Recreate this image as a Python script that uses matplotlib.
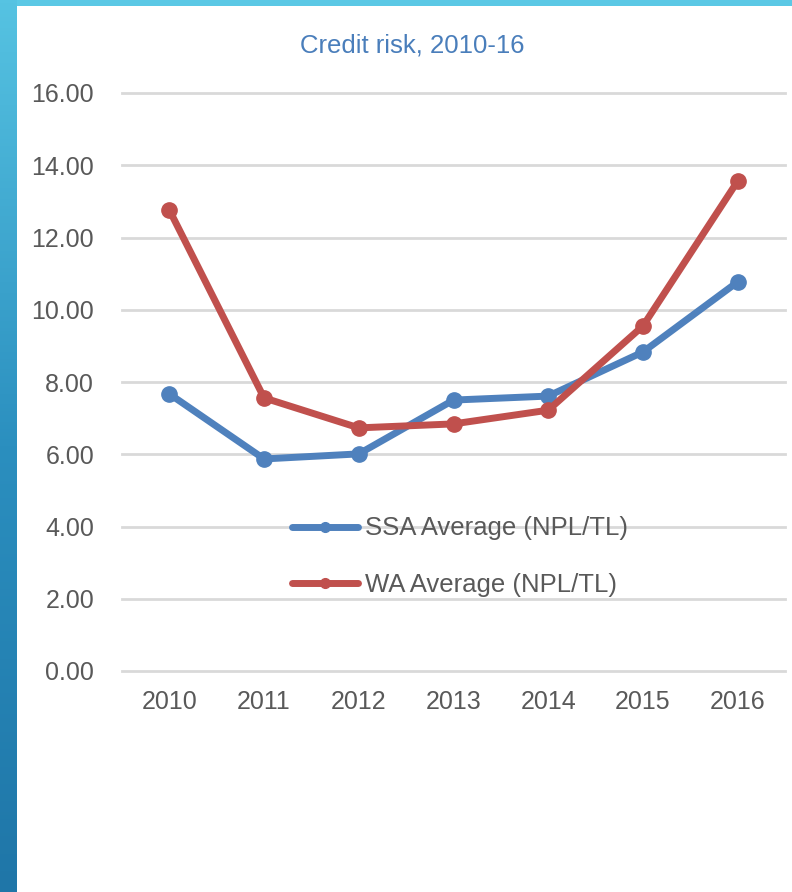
import numpy as np
import matplotlib
matplotlib.use('Agg')
from matplotlib import pyplot as plt
from matplotlib.colors import LinearSegmentedColormap

years = ['2010', '2011', '2012', '2013', '2014', '2015', '2016']
ssa_avg = [7.67, 5.87, 6.01, 7.50, 7.61, 8.83, 10.77]
wa_avg = [12.76, 7.56, 6.73, 6.84, 7.22, 9.55, 13.56]
yticks = [0, 2, 4, 6, 8, 10, 12, 14, 16]

plt.rcParams['font.family'] = ['Liberation Sans', 'DejaVu Sans']

W, H = 792, 892
fig = plt.figure(figsize=(W/100, H/100), dpi=100)

## slide frame: left gradient strip and top bar
strip = fig.add_axes([0, 0, 17/W, 1])
cmap = LinearSegmentedColormap.from_list('frame', ['#56c3e2', '#2b8fbf', '#1f76a8'])
strip.imshow(np.linspace(0, 1, 256).reshape(-1, 1), aspect='auto', cmap=cmap)
strip.axis('off')
top = fig.add_axes([17/W, 1 - 6/H, 1 - 17/W, 6/H])
top.set_facecolor('#5bc8e5')
top.set_xticks([]), top.set_yticks([])
for s in top.spines.values():
    s.set_visible(False)

## chart
ax = fig.add_axes([122/W, 221/H, 663/W, 578/H])
x = np.arange(len(years))
ax.plot(x, ssa_avg, color='#4f81bd', lw=5, marker='o', ms=11,
        solid_capstyle='round', label='SSA Average (NPL/TL)', zorder=3)
ax.plot(x, wa_avg, color='#c0504d', lw=5, marker='o', ms=11,
        solid_capstyle='round', label='WA Average (NPL/TL)', zorder=3)

ax.set_xlim(-0.5, len(years) - 0.5)
ax.set_ylim(0, 16)
ax.set_xticks(x)
ax.set_xticklabels(years)
ax.set_yticks(yticks)
ax.set_yticklabels(['%.2f' % v for v in yticks])
ax.tick_params(length=0, labelsize=18, colors='#595959', pad=14)
ax.tick_params(axis='y', pad=20)
ax.grid(axis='y', color='#d9d9d9', lw=2)
for gl in ax.get_ygridlines():
    gl.set_clip_on(False)
ax.set_axisbelow(True)
for s in ax.spines.values():
    s.set_visible(False)

leg = ax.legend(loc='center', bbox_to_anchor=(0.51, 0.198), frameon=False,
                fontsize=18.5, handlelength=2.57, handletextpad=0.27,
                labelspacing=1.25, labelcolor='#595959')
for h in leg.legend_handles:
    h.set_markersize(7)

fig.text(412/W, 1 - 45/H, 'Credit risk, 2010-16', ha='center', va='center',
         fontsize=18.5, color='#4a7ebb')

fig.savefig('out.png', dpi=100)
